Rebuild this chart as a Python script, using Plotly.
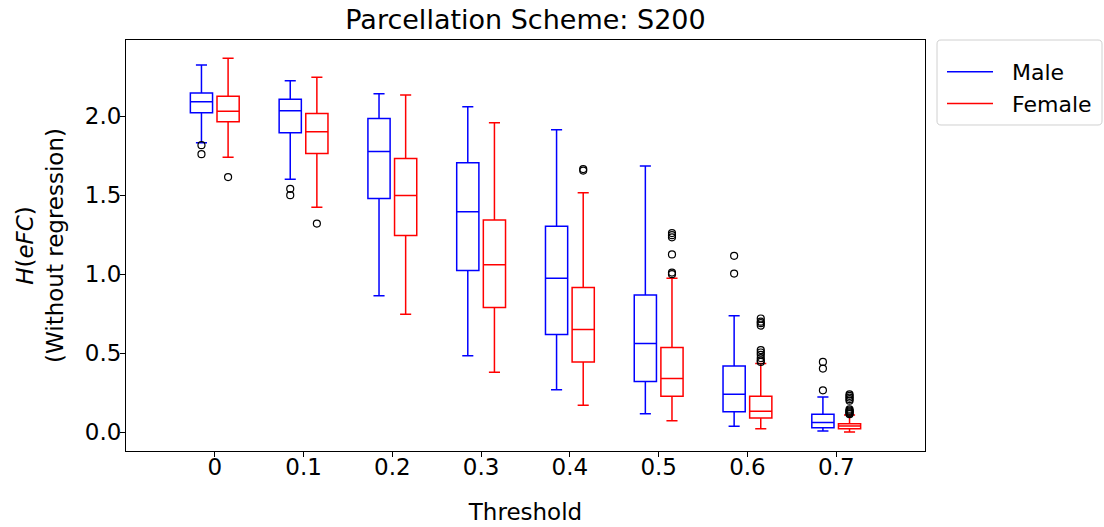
import plotly.graph_objects as go

thresholds = ["0", "0.1", "0.2", "0.3", "0.4", "0.5", "0.6", "0.7"]

male_upper = [2.323, 2.223, 2.141, 2.059, 1.913, 1.684, 0.738, 0.224]
male_q3 = [2.146, 2.106, 1.985, 1.705, 1.304, 0.868, 0.420, 0.114]
male_median = [2.091, 2.034, 1.776, 1.395, 0.975, 0.562, 0.241, 0.063]
male_q1 = [2.021, 1.895, 1.479, 1.023, 0.618, 0.321, 0.130, 0.029]
male_lower = [1.831, 1.601, 0.863, 0.485, 0.270, 0.118, 0.038, 0.008]
male_outliers = [[1.816, 1.759], [1.54, 1.50], [], [], [], [], [1.116, 1.004],
                 [0.445, 0.403, 0.266]]

female_upper = [2.365, 2.245, 2.133, 1.958, 1.515, 0.975, 0.435, 0.110]
female_q3 = [2.125, 2.017, 1.732, 1.342, 0.916, 0.537, 0.228, 0.055]
female_median = [2.030, 1.901, 1.498, 1.059, 0.650, 0.340, 0.133, 0.040]
female_q1 = [1.964, 1.764, 1.245, 0.789, 0.445, 0.229, 0.090, 0.023]
female_lower = [1.739, 1.424, 0.747, 0.380, 0.171, 0.073, 0.022, 0.002]
female_outliers = [[1.614], [1.32], [], [], [1.665, 1.655],
                   [1.26, 1.247, 1.233, 1.125, 1.01, 1.0],
                   [0.72, 0.70, 0.69, 0.675, 0.52, 0.505, 0.49, 0.47, 0.455, 0.445],
                   [0.24, 0.23, 0.22, 0.21, 0.20, 0.145, 0.138, 0.132, 0.126, 0.12, 0.115]]

OFFSET = 0.15
BOXW = 0.25
FONT = "DejaVu Sans"

W, H = 1104, 527
L, R, T, B = 126, 179, 40, 76
PW, PH = W - L - R, H - T - B


def px_x(p):
    return (p - L) / PW


def px_y(p):
    return (H - B - p) / PH


fig = go.Figure()

groups = [
    ("Male", "#0000FF", -OFFSET, male_q1, male_median, male_q3, male_lower, male_upper, male_outliers),
    ("Female", "#FF0000", OFFSET, female_q1, female_median, female_q3, female_lower, female_upper, female_outliers),
]

for name, color, off, q1, med, q3, lo, hi, outs in groups:
    pos = [i + off for i in range(len(thresholds))]
    fig.add_trace(go.Box(
        x=pos, q1=q1, median=med, q3=q3, lowerfence=lo, upperfence=hi,
        width=BOXW, whiskerwidth=0.5,
        line=dict(color=color, width=1.5),
        fillcolor="rgba(0,0,0,0)",
        boxpoints=False, showlegend=False, name=name, hoverinfo="skip",
    ))
    ox, oy = [], []
    for i, vals in enumerate(outs):
        for v in vals:
            ox.append(i + off)
            oy.append(v)
    fig.add_trace(go.Scatter(
        x=ox, y=oy, mode="markers", showlegend=False,
        marker=dict(symbol="circle-open", size=7, color="black", line=dict(width=1.2, color="black")),
    ))

NBSP = "\u00a0"
for name, color, *_ in groups:
    fig.add_trace(go.Scatter(x=[None], y=[None], mode="lines", name=NBSP * 2 + name,
                             line=dict(color=color, width=1.5)))

# rounded legend frame (matplotlib style)
x0, x1, y0, y1, rr = 937, 1102, 40, 125, 4


def P(x, y):
    return f"{px_x(x):.5f},{px_y(y):.5f}"


path = (f"M {P(x0+rr,y0)} L {P(x1-rr,y0)} Q {P(x1,y0)} {P(x1,y0+rr)} L {P(x1,y1-rr)} "
        f"Q {P(x1,y1)} {P(x1-rr,y1)} L {P(x0+rr,y1)} Q {P(x0,y1)} {P(x0,y1-rr)} "
        f"L {P(x0,y0+rr)} Q {P(x0,y0)} {P(x0+rr,y0)} Z")
fig.add_shape(type="path", path=path, xref="paper", yref="paper",
              line=dict(color="#d0d0d0", width=1), fillcolor="white", layer="below")

fig.update_layout(
    width=W, height=H,
    margin=dict(l=L, r=R, t=T, b=B, autoexpand=False),
    plot_bgcolor="rgba(0,0,0,0)", paper_bgcolor="white",
    font=dict(family=FONT, size=23, color="black"),
    boxmode="overlay",
    title=dict(text="Parcellation Scheme: S200", x=0.5, xref="paper", xanchor="center",
               y=1 - 20 / H, yref="container", yanchor="middle",
               font=dict(family=FONT, size=27, color="black")),
    legend=dict(x=942 / W, y=1 - 51 / H, xref="container", yref="container",
                xanchor="left", yanchor="top",
                borderwidth=0, bgcolor="rgba(0,0,0,0)",
                font=dict(family=FONT, size=22, color="black"),
                itemwidth=46),
    showlegend=True,
)

fig.update_xaxes(
    range=[-1, 8], tickvals=list(range(len(thresholds))), ticktext=thresholds,
    showline=True, mirror=True, linecolor="black", linewidth=1,
    ticks="outside", ticklen=5, tickcolor="black", showgrid=False, zeroline=False,
    tickfont=dict(family=FONT, size=23), ticklabelstandoff=-10,
    title=dict(text="Threshold", standoff=25, font=dict(family=FONT, size=23)),
    automargin=False,
)
fig.update_yaxes(
    range=[-0.118, 2.481], tickvals=[0, 0.5, 1.0, 1.5, 2.0], tickformat=".1f",
    showline=True, mirror=True, linecolor="black", linewidth=1,
    ticks="outside", ticklen=5, tickcolor="black", showgrid=False, zeroline=False,
    tickfont=dict(family=FONT, size=23), ticklabelstandoff=-6,
    title=dict(text="<i>H</i>(<i>eFC</i>)<br>(Without regression)", standoff=14,
               font=dict(family=FONT, size=23)),
    automargin=False,
)

fig.write_html("out.html")
